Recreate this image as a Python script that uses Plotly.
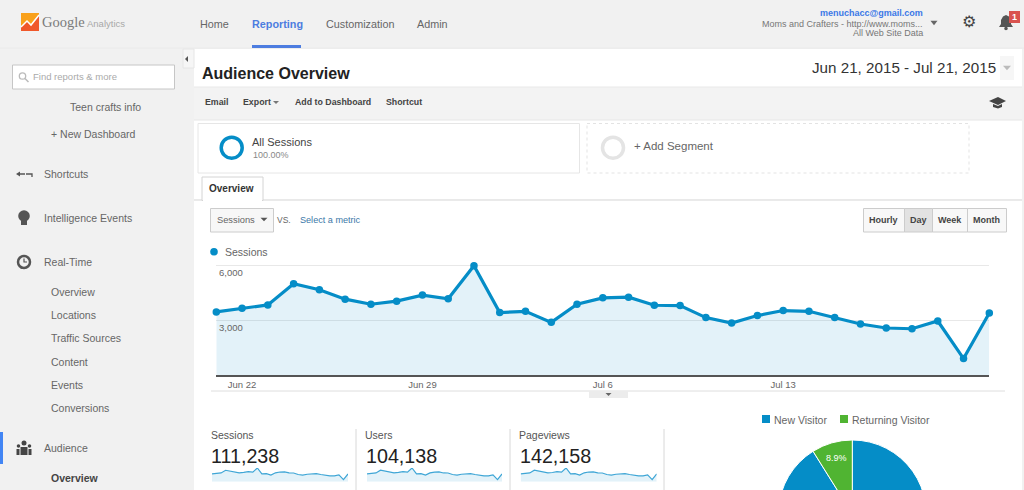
import pandas as pd
import plotly.graph_objects as go

W = 1024
H = 600  # taller than the window, the pie runs off the bottom of the page

# Data
days = pd.date_range("2015-06-21", "2015-07-21").strftime("%Y-%m-%d").tolist()
sessions = [3450, 3650, 3835, 4990, 4660, 4150, 3870, 4040, 4370, 4165, 5980,
            3415, 3485, 2880, 3870, 4220, 4255, 3815, 3800, 3140, 2845, 3250,
            3525, 3485, 3140, 2790, 2570, 2530, 2955, 900, 3395]
users = [3220, 3420, 3590, 4680, 4360, 3880, 3620, 3780, 4090, 3900, 5600,
         3190, 3260, 2700, 3620, 3950, 3990, 3570, 3560, 2940, 2660, 3040,
         3300, 3260, 2940, 2610, 2400, 2370, 2760, 840, 3170]
pageviews = [4400, 4650, 4900, 6400, 5950, 5300, 4950, 5150, 5600, 5320, 7650,
             4380, 4460, 3690, 4960, 5400, 5450, 4880, 4860, 4010, 3640, 4150,
             4510, 4460, 4020, 3570, 3290, 3240, 3780, 1150, 4340]
x_tick_vals = ["2015-06-22", "2015-06-29", "2015-07-06", "2015-07-13"]
x_tick_text = ["Jun 22", "Jun 29", "Jul 6", "Jul 13"]
y_tick_vals = [3000, 6000]
y_tick_text = ["3,000", "6,000"]
visitor_labels = ["New Visitor", "Returning Visitor"]
visitor_share = [91.1, 8.9]
metric_names = ["Sessions", "Users", "Pageviews"]
metric_totals = ["111,238", "104,138", "142,158"]
realtime_items = ["Overview", "Locations", "Traffic Sources", "Content", "Events", "Conversions"]
range_buttons = ["Hourly", "Day", "Week", "Month"]

BLUE = "#058dc7"
GREEN = "#50b432"
AREA = "rgba(5,141,199,0.115)"
FONT = "Liberation Sans"

shapes = []
notes = []


def px(x):
    return x / W


def py(y):
    return 1 - y / H


def rect(x0, y0, x1, y1, fill="rgba(0,0,0,0)", line=None, lw=1, dash="solid"):
    shapes.append(dict(type="rect", xref="paper", yref="paper", layer="below", x0=px(x0), x1=px(x1), y0=py(y0), y1=py(y1),
                       fillcolor=fill, line=dict(color=line or "rgba(0,0,0,0)", width=lw if line else 0, dash=dash)))


def circle(cx, cy, r, fill="rgba(0,0,0,0)", line=None, lw=1):
    shapes.append(dict(type="circle", xref="paper", yref="paper", layer="below", x0=px(cx - r), x1=px(cx + r), y0=py(cy - r), y1=py(cy + r),
                       fillcolor=fill, line=dict(color=line or "rgba(0,0,0,0)", width=lw if line else 0)))


def poly(points, fill="rgba(0,0,0,0)", line=None, lw=1, closed=True):
    d = "M" + " L".join(f"{px(a):.5f},{py(b):.5f}" for a, b in points) + (" Z" if closed else "")
    shapes.append(dict(type="path", xref="paper", yref="paper", layer="below", path=d, fillcolor=fill,
                       line=dict(color=line or "rgba(0,0,0,0)", width=lw if line else 0)))


def hline(x0, x1, y, color, lw=1):
    poly([(x0, y), (x1, y)], line=color, lw=lw, closed=False)


def vline(x, y0, y1, color, lw=1):
    poly([(x, y0), (x, y1)], line=color, lw=lw, closed=False)


def caret(cx, cy, w, h, color):
    poly([(cx - w / 2, cy - h / 2), (cx + w / 2, cy - h / 2), (cx, cy + h / 2)], fill=color)


def text(x, y, s, size=10, color="#555", bold=False, anchor="left", font=FONT):
    if bold:
        s = f"<b>{s}</b>"
    notes.append(dict(xref="paper", yref="paper", x=px(x), y=py(y), text=s, showarrow=False,
                      xanchor=anchor, yanchor="middle", borderpad=0, borderwidth=0,
                      font=dict(family=font, size=size, color=color)))


# page regions
rect(0, 0, W, 490, fill="#f1f1f1")
rect(194, 49, 1022, 490, fill="#ffffff")
rect(194, 87, 1022, 120, fill="#f3f3f3")
hline(194, 1022, 87, "#e9e9e9")
hline(194, 1022, 120, "#e6e6e6")
hline(0, W, 48, "#eaeaea")
rect(183, 49, 194, 68, fill="#f6f6f6", line="#e6e6e6")
poly([(188, 56), (188, 62), (185, 59)], fill="#555")

# logo
rect(21, 13, 39, 31, fill="#f9a11b")
poly([(21, 31), (21, 27), (27, 21), (31, 25), (39, 15), (39, 31)], fill="#f0582a")
poly([(21, 27), (27, 21), (31, 25), (39, 15)], line="#ffffff", lw=1.5, closed=False)
text(42, 22, "Google", 14.5, "#7b7b7b", font="Liberation Serif")
text(87, 23, "Analytics", 9.5, "#a8a8a8")

# top nav
text(200, 24, "Home", 10.8, "#666")
text(252, 24, "Reporting", 10.8, "#4d7de0", bold=True)
rect(252, 45, 301, 48, fill="#4d7de0")
text(326, 24, "Customization", 10.8, "#666")
text(417, 24, "Admin", 10.8, "#666")

# account block
text(923, 13.5, "menuchacc@gmail.com", 9, "#3b78e7", bold=True, anchor="right")
text(923, 23.5, "Moms and Crafters - http://www.moms...", 9, "#777", anchor="right")
text(923, 33, "All Web Site Data", 9, "#777", anchor="right")
caret(934, 23, 7, 4.5, "#666")
text(969, 21.5, "⚙", 16, "#444", anchor="center", font="DejaVu Sans")
poly([(999, 27), (1001, 24), (1001, 20), (1003, 16.5), (1006, 15), (1009, 16.5), (1011, 20), (1011, 24), (1013, 27)], fill="#555")
circle(1006, 28.5, 1.8, fill="#555")
rect(1009, 11, 1020, 23, fill="#d9534f")
text(1014.5, 17, "1", 9, "#ffffff", bold=True, anchor="center")

# search box
rect(12.5, 65, 174.5, 89, fill="#ffffff", line="#c6c6c6")
circle(22.5, 76, 3.2, line="#bbb", lw=1.3)
poly([(25, 78.5), (28.5, 82)], line="#bbb", lw=1.5, closed=False)
text(33, 77, "Find reports &amp; more", 9.5, "#aaa")

# sidebar
text(70, 107, "Teen crafts info", 10.5, "#666")
text(51, 134, "+ New Dashboard", 10.5, "#666")
poly([(16, 174), (20, 171.5), (20, 176.5)], fill="#555")
hline(18, 25, 174, "#555", 1.5)
poly([(26, 174), (32, 174), (32, 177)], line="#555", lw=1.3, closed=False)
text(44, 174, "Shortcuts", 10.5, "#666")
circle(24, 216, 5.8, fill="#555")
rect(21, 220, 27, 225, fill="#555")
text(44, 218, "Intelligence Events", 10.5, "#666")
circle(24, 262, 6, fill="#f1f1f1", line="#555", lw=2.5)
poly([(24, 258.5), (24, 262), (27, 262)], line="#555", lw=1.2, closed=False)
poly([(19, 266), (21, 269), (23, 268)], fill="#555")
text(44, 262, "Real-Time", 10.5, "#666")
for i, label in enumerate(realtime_items):
    text(51, 292 + i * 23.2, label, 10.5, "#666")
rect(0, 432, 3, 464, fill="#4285f4")
circle(24, 443, 2.5, fill="#444")
circle(18.5, 446, 1.8, fill="#444")
circle(29.5, 446, 1.8, fill="#444")
rect(20.5, 447, 27.5, 455, fill="#444")
rect(16.5, 449, 19.5, 455, fill="#444")
rect(28.5, 449, 31.5, 455, fill="#444")
text(44, 448, "Audience", 10.5, "#666")
text(51, 478, "Overview", 10.5, "#444", bold=True)

# title row
text(202, 73, "Audience Overview", 16, "#222", bold=True)
rect(809, 56, 1014, 80, fill="#f6f6f6")
rect(809, 56, 1000, 80, fill="#ffffff")
text(812, 68, "Jun 21, 2015 - Jul 21, 2015", 15.2, "#333")
caret(1007, 68, 8, 4.5, "#bbb")

# toolbar
text(205, 102, "Email", 8.8, "#444", bold=True)
text(243, 102, "Export", 8.8, "#444", bold=True)
caret(276, 102.5, 6, 3, "#777")
text(295, 102, "Add to Dashboard", 8.8, "#444", bold=True)
text(386, 102, "Shortcut", 8.8, "#444", bold=True)
poly([(989, 101), (998, 97), (1006, 101), (998, 105)], fill="#444")
poly([(993, 104), (998, 106), (1002, 104), (1002, 107), (998, 108.5), (993, 107)], fill="#444")

# segments
rect(198, 123.5, 579.5, 173, fill="#ffffff", line="#e6e6e6")
circle(231.7, 147.7, 10.5, line=BLUE, lw=3.5)
text(252, 142, "All Sessions", 11, "#444")
text(253, 155, "100.00%", 9, "#888")
rect(587, 123.5, 969, 173, fill="#ffffff", line="#e3e3e3", dash="dot")
circle(613, 147.7, 10.5, line="#e4e4e4", lw=3.5)
text(634, 146, "+ Add Segment", 11.5, "#666")

# tab
hline(194, 1022, 200, "#d4d4d4")
rect(202, 177, 263, 200.5, fill="#ffffff", line="#d4d4d4")
hline(203, 262, 200.5, "#ffffff", 2)
text(209, 188.5, "Overview", 10, "#333", bold=True)

# metric picker and range buttons
rect(210.5, 208.5, 273.5, 232, fill="#f7f7f7", line="#cccccc")
text(217, 220, "Sessions", 9.3, "#666")
caret(264, 219.5, 7, 3.5, "#555")
text(277, 219.5, "VS.", 8.5, "#666")
text(300, 220, "Select a metric", 9.1, "#3a77a8")
edges = [863, 904, 932, 967, 1006]
for i, label in enumerate(range_buttons):
    active = label == "Day"
    rect(edges[i] + 0.5, 208.5, edges[i + 1] + 0.5, 232, fill="#e2e2e2" if active else "#f8f8f8", line="#cccccc")
    text((edges[i] + edges[i + 1]) / 2, 220, label, 9, "#444", bold=True, anchor="center")

# chart legend and bottom rule
circle(214, 251.7, 3.8, fill=BLUE)
text(225, 252, "Sessions", 10.5, "#666")
hline(211, 1005, 391, "#dedede", 1)
rect(589, 391, 628, 398, fill="#ececec")
caret(608.5, 394.5, 6, 3, "#666")

# y labels sit just under their gridlines, inside the plot
for val, label in zip(y_tick_vals, y_tick_text):
    notes.append(dict(xref="paper", yref="y", x=px(217.5), y=val, yshift=-7, text=label, showarrow=False,
                      xanchor="left", yanchor="middle", borderpad=0,
                      font=dict(family=FONT, size=9.5, color="#666")))

# stat blocks
stat_x = [210.5, 365, 519]
for i, name in enumerate(metric_names):
    text(stat_x[i], 435, name, 10.5, "#555")
    text(stat_x[i] + 0.5, 456, metric_totals[i], 19.7, "#222")
for x in [356, 510, 664]:
    vline(x, 429, 490, "#d8d8d8")

# pie legend
rect(762, 415, 770, 423, fill=BLUE)
text(774, 419.5, visitor_labels[0], 10.5, "#666")
rect(840, 415, 848, 423, fill=GREEN)
text(852, 419.5, visitor_labels[1], 10.5, "#666")

fig = go.Figure()

# main sessions line
fig.add_trace(go.Scatter(x=days, y=sessions, xaxis="x", yaxis="y", mode="lines+markers",
                         line=dict(color=BLUE, width=3.2), marker=dict(size=7.5, color=BLUE),
                         fill="tozeroy", fillcolor=AREA, cliponaxis=False, showlegend=False,
                         name="Sessions"))

# sparklines
spark_series = [sessions, users, pageviews]
spark_domains = [(212, 348), (367, 502), (520.7, 656.7)]
for i, values in enumerate(spark_series):
    n = str(i + 2)
    fig.add_trace(go.Scatter(x=days, y=values, xaxis="x" + n, yaxis="y" + n, mode="lines",
                             line=dict(color="#3fa6d6", width=1.2), fill="tozeroy", fillcolor=AREA,
                             showlegend=False, name=metric_names[i]))

# the pie, only the small slice has its label in view
pie_cx, pie_cy, pie_r = 852.3, 514, 74
fig.add_trace(go.Pie(labels=visitor_labels, values=visitor_share, sort=False, direction="clockwise",
                     rotation=0, marker=dict(colors=[BLUE, GREEN], line=dict(color="#ffffff", width=1)),
                     texttemplate=["", "%{value}%"], textposition="inside", insidetextorientation="horizontal",
                     textfont=dict(family=FONT, size=9, color="#ffffff"), showlegend=False,
                     domain=dict(x=[px(pie_cx - pie_r), px(pie_cx + pie_r)], y=[py(pie_cy + pie_r), py(pie_cy - pie_r)])))

# the axis runs a little past 6,000 so that gridline is drawn
layout_axes = dict(
    xaxis=dict(domain=[px(216.3), px(989.3)], range=[days[0], days[-1]], type="date", anchor="y",
               tickmode="array", tickvals=x_tick_vals, ticktext=x_tick_text, showgrid=False, zeroline=False,
               showline=True, linecolor="#555", linewidth=1.5, ticks="",
               tickfont=dict(family=FONT, size=9.5, color="#666")),
    yaxis=dict(domain=[py(375), py(264.3)], range=[0, 6055], anchor="x", tickmode="array",
               tickvals=y_tick_vals, showticklabels=False, showgrid=True, gridcolor="#e8e8e8", gridwidth=1,
               zeroline=False, showline=False, ticks=""),
)
for i, (x0, x1) in enumerate(spark_domains):
    n = str(i + 2)
    layout_axes["xaxis" + n] = dict(domain=[px(x0), px(x1)], range=[days[0], days[-1]], type="date",
                                    anchor="y" + n, visible=False)
    layout_axes["yaxis" + n] = dict(domain=[py(481.7), py(468)], range=[0, max(spark_series[i])],
                                    anchor="x" + n, visible=False)

fig.update_layout(width=W, height=H, margin=dict(l=0, r=0, t=0, b=0), paper_bgcolor="#ffffff",
                  plot_bgcolor="rgba(0,0,0,0)", hovermode="closest", shapes=shapes, annotations=notes,
                  font=dict(family=FONT), **layout_axes)

# no body margin, no scrollbars: the window only shows the top 490 px
fig.write_html("out.html", config=dict(displayModeBar=False),
               post_script="document.body.style.margin='0';document.documentElement.style.overflow='hidden';")
